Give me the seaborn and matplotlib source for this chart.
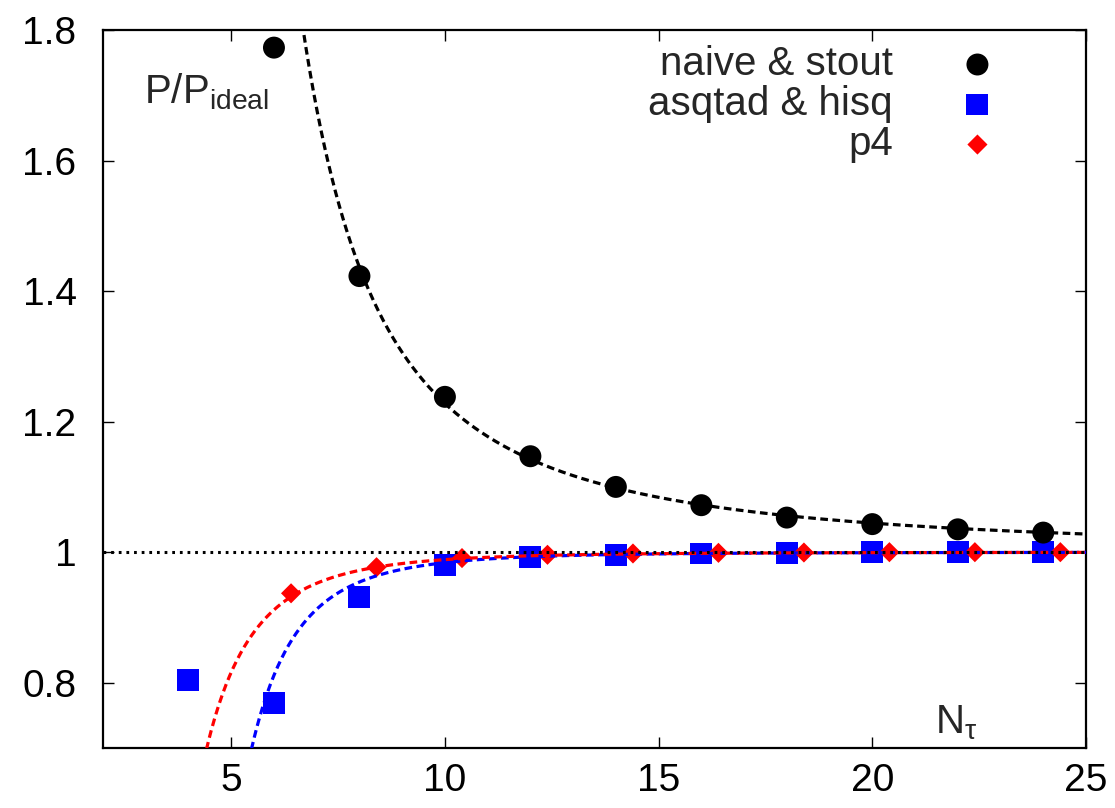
import numpy as np
import pandas as pd
import matplotlib
matplotlib.use("Agg")
import matplotlib.pyplot as plt
from matplotlib.ticker import FuncFormatter, FixedLocator
import seaborn as sns

# Free-gas pressure ratio for several staggered fermion discretisations
nt_naive = [6, 8, 10, 12, 14, 16, 18, 20, 22, 24]
p_naive = [1.773, 1.423, 1.238, 1.147, 1.100, 1.072, 1.053, 1.043, 1.035, 1.030]

nt_asqtad = [4, 6, 8, 10, 12, 14, 16, 18, 20, 22, 24]
p_asqtad = [0.804, 0.769, 0.931, 0.980, 0.992, 0.995, 0.998, 0.999, 1.000, 1.000, 1.000]

nt_p4 = [6.4, 8.4, 10.4, 12.4, 14.4, 16.4, 18.4, 20.4, 22.4, 24.4]
p_p4 = [0.937, 0.977, 0.991, 0.996, 0.998, 0.999, 0.9995, 1.000, 1.000, 1.000]

# Coefficients of the small-a expansion in powers of (pi/N_tau)^2, (pi/N_tau)^4, (pi/N_tau)^6
coef_naive = [248 / 147, 635 / 147, 3796 / 189]
coef_asqtad = [0.0, -1143 / 980, -4.9]
coef_p4 = [0.0, -1143 / 980, -73 / 2079]

labels = ["naive & stout", "asqtad & hisq", "p4"]
x_ticks = [5, 10, 15, 20, 25]
y_ticks = [0.8, 1.0, 1.2, 1.4, 1.6, 1.8]

BLUE = "#0000FF"
RED = "#FF0000"
BLACK = "#000000"


def expansion(nt, coef):
    u2 = (np.pi / nt) ** 2
    return 1.0 + sum(c * u2 ** (k + 1) for k, c in enumerate(coef))


sns.set_theme(style="ticks")
plt.rcParams["font.family"] = ["Liberation Sans", "DejaVu Sans"]
plt.rcParams["mathtext.fontset"] = "custom"
plt.rcParams["mathtext.rm"] = "Liberation Sans"
plt.rcParams["mathtext.it"] = "Liberation Sans"

fig = plt.figure(figsize=(11.15, 8.08), dpi=100)
ax = fig.add_axes([103 / 1115, 60 / 808, 983 / 1115, 718 / 808])

# data points
sns.scatterplot(x=nt_asqtad, y=p_asqtad, ax=ax, marker="s", s=250, color=BLUE,
                edgecolor="none", linewidth=0, label=labels[1], zorder=3)
sns.scatterplot(x=nt_p4, y=p_p4, ax=ax, marker="D", s=105, color=RED,
                edgecolor="none", linewidth=0, label=labels[2], zorder=4)
sns.scatterplot(x=nt_naive, y=p_naive, ax=ax, marker="o", s=250, color=BLACK,
                edgecolor="none", linewidth=0, label=labels[0], zorder=3)

# expansion curves
nt_grid = np.linspace(2.0, 25.0, 800)
curves = pd.DataFrame({
    "nt": nt_grid,
    "naive": expansion(nt_grid, coef_naive),
    "asqtad": expansion(nt_grid, coef_asqtad),
    "p4": expansion(nt_grid, coef_p4),
})
dash = (0, (2.4, 1.4))
sns.lineplot(data=curves, x="nt", y="naive", ax=ax, color=BLACK, lw=2.3,
             linestyle=dash, zorder=5)
sns.lineplot(data=curves, x="nt", y="asqtad", ax=ax, color=BLUE, lw=2.3,
             linestyle=dash, zorder=5)
sns.lineplot(data=curves, x="nt", y="p4", ax=ax, color=RED, lw=2.3,
             linestyle=dash, zorder=6)
ax.axhline(1.0, color=BLACK, lw=2.2, linestyle=(0, (0.9, 1.6)), zorder=7)

ax.set_xlim(2, 25)
ax.set_ylim(0.7, 1.8)
ax.xaxis.set_major_locator(FixedLocator(x_ticks))
ax.yaxis.set_major_locator(FixedLocator(y_ticks))
fmt = FuncFormatter(lambda v, p: f"{v:g}")
ax.xaxis.set_major_formatter(fmt)
ax.yaxis.set_major_formatter(fmt)
ax.tick_params(direction="in", top=True, right=True, length=8, width=1.0,
               labelsize=28, colors=BLACK)
ax.tick_params(axis="y", pad=19)
ax.tick_params(axis="x", pad=11)
ax.set_xlabel("")
ax.set_ylabel("")
for sp in ax.spines.values():
    sp.set_visible(True)
    sp.set_linewidth(1.6)
    sp.set_color(BLACK)

# in-frame axis labels
ax.text(0.042, 0.898, r"P/P$_{\mathrm{ideal}}$", transform=ax.transAxes,
        fontsize=29, ha="left", va="baseline")
ax.text(0.846, 0.021, r"N$_{\mathrm{τ}}$", transform=ax.transAxes,
        fontsize=29, ha="left", va="baseline")

handles, labs = ax.get_legend_handles_labels()
order = [labs.index(l) for l in labels]
ax.legend([handles[i] for i in order], [labs[i] for i in order],
          loc="upper right", bbox_to_anchor=(0.908, 0.979), frameon=False,
          markerfirst=False, fontsize=29, handlelength=0.9,
          handletextpad=1.65, labelspacing=0.05, borderpad=0.0,
          borderaxespad=0.0, scatterpoints=1)

fig.savefig("out.png", dpi=100)
